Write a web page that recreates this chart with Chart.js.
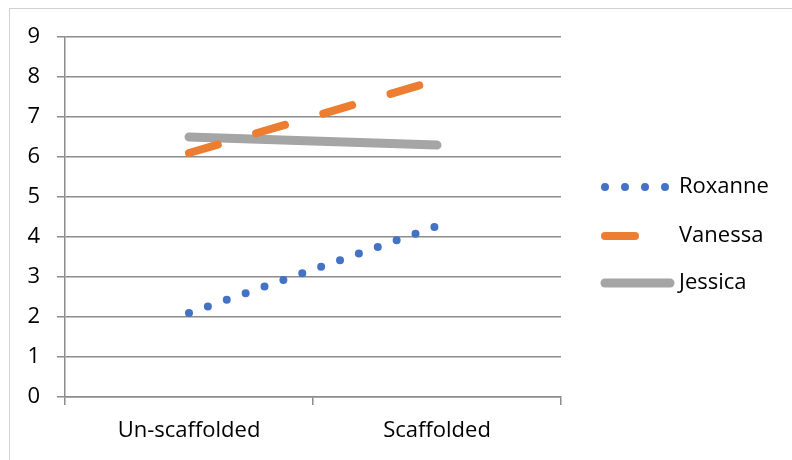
<!DOCTYPE html>
<html>
<head>
<meta charset="utf-8">
<script src="https://cdn.jsdelivr.net/npm/chart.js@4"></script>
<style>
  html, body { margin: 0; padding: 0; background: #fff; }
  #wrap { position: relative; width: 792px; height: 460px; overflow: hidden; }
  #frame { position: absolute; left: 9px; top: 8px; width: 800px; height: 470px;
           border: 1px solid #d0d0d0; box-sizing: border-box; }
  canvas { position: absolute; left: 0; top: 0; }
</style>
</head>
<body>
<div id="wrap">
  <div id="frame"></div>
  <canvas id="chart" width="792" height="460"></canvas>
</div>
<script>
// ── Data ──
const categories = ['Un-scaffolded', 'Scaffolded'];
const roxanne    = [2.1, 4.27];
const vanessa    = [6.1, 7.92];
const jessica    = [6.5, 6.3];
const yTicks     = [0, 1, 2, 3, 4, 5, 6, 7, 8, 9];

const FONT     = '"Open Sans", "Noto Sans", sans-serif';
const GRID_COL = '#8c8c8c';

// ── Legend drawn on the right, Excel style ──
const sideLegend = {
  id: 'sideLegend',
  afterDraw(chart) {
    const ctx = chart.ctx;
    const rows = [187, 236, 283];
    chart.data.datasets.forEach((ds, i) => {
      const y = rows[i];
      ctx.save();
      ctx.strokeStyle = ds.borderColor;
      ctx.lineWidth   = ds.borderWidth;
      ctx.lineCap     = 'round';
      ctx.setLineDash(ds.borderDash || []);
      ctx.beginPath();
      ctx.moveTo(605, y);
      ctx.lineTo(670, y);
      ctx.stroke();
      ctx.restore();

      ctx.save();
      ctx.fillStyle    = '#000';
      ctx.font         = '22px ' + FONT;
      ctx.textBaseline = 'middle';
      ctx.textAlign    = 'left';
      ctx.fillText(ds.label, 679, y);
      ctx.restore();
    });
  }
};

const ctx = document.getElementById('chart');
new Chart(ctx, {
  type: 'line',
  data: {
    labels: categories,
    datasets: [
      { label: 'Roxanne', data: roxanne, borderColor: '#4472C4', borderWidth: 8,
        borderDash: [0, 20], borderCapStyle: 'round' },
      { label: 'Vanessa', data: vanessa, borderColor: '#ED7D31', borderWidth: 8,
        borderDash: [30, 40], borderCapStyle: 'round' },
      { label: 'Jessica', data: jessica, borderColor: '#A5A5A5', borderWidth: 9,
        borderCapStyle: 'round' },
    ],
  },
  options: {
    responsive: false, animation: false,
    layout: { padding: { top: 37, right: 231, left: 0, bottom: 0 } },
    elements: { point: { radius: 0 }, line: { tension: 0 } },
    plugins: { legend: { display: false }, tooltip: { enabled: false } },
    scales: {
      x: {
        offset: true,
        grid: { offset: true, drawOnChartArea: false, drawTicks: true, tickLength: 8,
                color: GRID_COL, lineWidth: 1.5 },
        border: { display: true, color: GRID_COL, width: 1.5 },
        ticks: { color: '#000', padding: 13, font: { family: FONT, size: 22 } },
        afterFit: s => { s.height = 63; },
      },
      y: {
        min: 0, max: 9,
        afterBuildTicks: s => { s.ticks = yTicks.map(v => ({ value: v })); },
        grid: { color: GRID_COL, lineWidth: 1.5, drawTicks: true, tickLength: 8 },
        border: { display: true, color: GRID_COL, width: 1.5 },
        ticks: { color: '#000', padding: 17, font: { family: FONT, size: 22 } },
        afterFit: s => { s.width = 65; },
      },
    },
  },
  plugins: [sideLegend],
});
</script>
</body>
</html>
